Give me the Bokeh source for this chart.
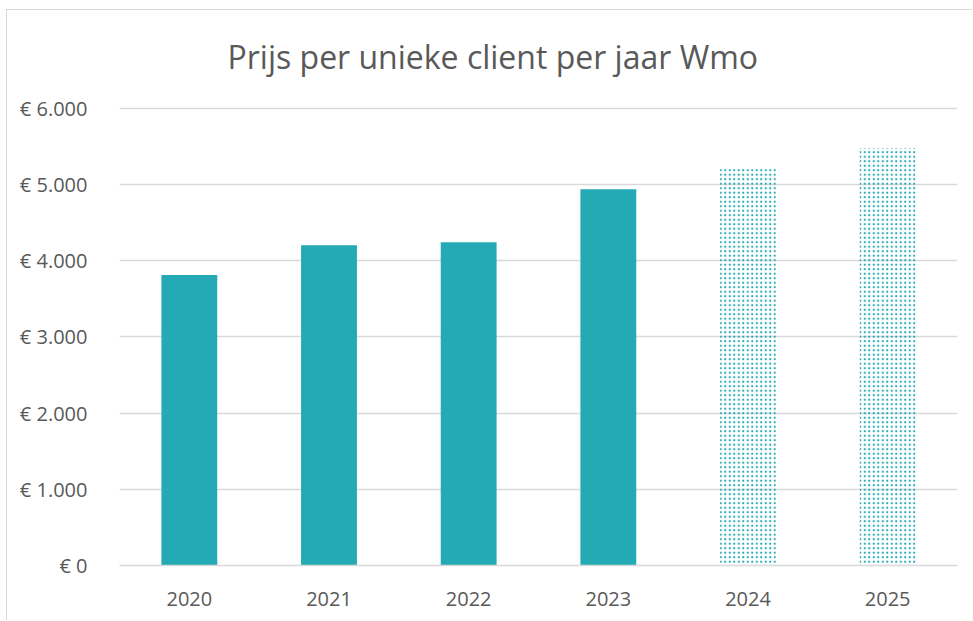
from bokeh.plotting import figure
from bokeh.models import ColumnDataSource, FixedTicker, Range1d
from bokeh.embed import file_html
from bokeh.resources import INLINE

years = ["2020", "2021", "2022", "2023", "2024", "2025"]
values = [3810, 4200, 4240, 4935, 5200, 5475]
forecast = [False, False, False, False, True, True]
y_ticks = [0, 1000, 2000, 3000, 4000, 5000, 6000]
y_tick_labels = ["€ 0", "€ 1.000", "€ 2.000", "€ 3.000", "€ 4.000", "€ 5.000", "€ 6.000"]
title_text = "Prijs per unieke client per jaar Wmo"

teal = "#23aab5"
grey_text = "#595959"
grid = "#d9d9d9"
font = "Open Sans"

actual = ColumnDataSource(dict(
    x=[y for y, f in zip(years, forecast) if not f],
    top=[v for v, f in zip(values, forecast) if not f]))
proj = ColumnDataSource(dict(
    x=[y for y, f in zip(years, forecast) if f],
    top=[v for v, f in zip(values, forecast) if f]))

p = figure(x_range=years, width=966, height=611, output_backend="svg",
           toolbar_location=None, min_border_left=112, min_border_right=16,
           min_border_top=90, min_border_bottom=56)
p.margin = (9, 0, 0, 6)
p.y_range = Range1d(0, 6100)
p.x_range.range_padding = 0

p.vbar(x="x", top="top", width=0.4, source=actual, fill_color=teal, line_color=None)
p.vbar(x="x", top="top", width=0.4, source=proj, fill_color=None, line_color=None,
       hatch_pattern=".", hatch_color=teal, hatch_scale=4.5, hatch_weight=3)

p.title.text = title_text
p.title.text_font = font
p.title.text_font_size = "32px"
p.title.text_font_style = "normal"
p.title.text_color = grey_text
p.title.align = "left"
p.title.offset = 108
p.title.standoff = 45

p.yaxis.ticker = FixedTicker(ticks=y_ticks)
p.yaxis.major_label_overrides = {t: l for t, l in zip(y_ticks, y_tick_labels)}
p.yaxis.axis_line_color = None
p.yaxis.major_tick_line_color = None
p.yaxis.minor_tick_line_color = None
p.yaxis.major_label_standoff = 26
p.yaxis.major_label_text_font = font
p.yaxis.major_label_text_font_size = "20px"
p.yaxis.major_label_text_color = grey_text

p.xaxis.axis_line_color = grid
p.xaxis.axis_line_width = 1.5
p.xaxis.major_tick_line_color = None
p.xaxis.major_label_standoff = 20
p.xaxis.major_label_text_font = font
p.xaxis.major_label_text_font_size = "20px"
p.xaxis.major_label_text_color = grey_text

p.xgrid.grid_line_color = None
p.ygrid.grid_line_color = grid
p.ygrid.grid_line_width = 1.5
p.outline_line_color = None
p.styles = {"border-left": "1.5px solid #d9d9d9", "border-top": "1.5px solid #d9d9d9"}

open("out.html", "w").write(file_html(p, INLINE))
